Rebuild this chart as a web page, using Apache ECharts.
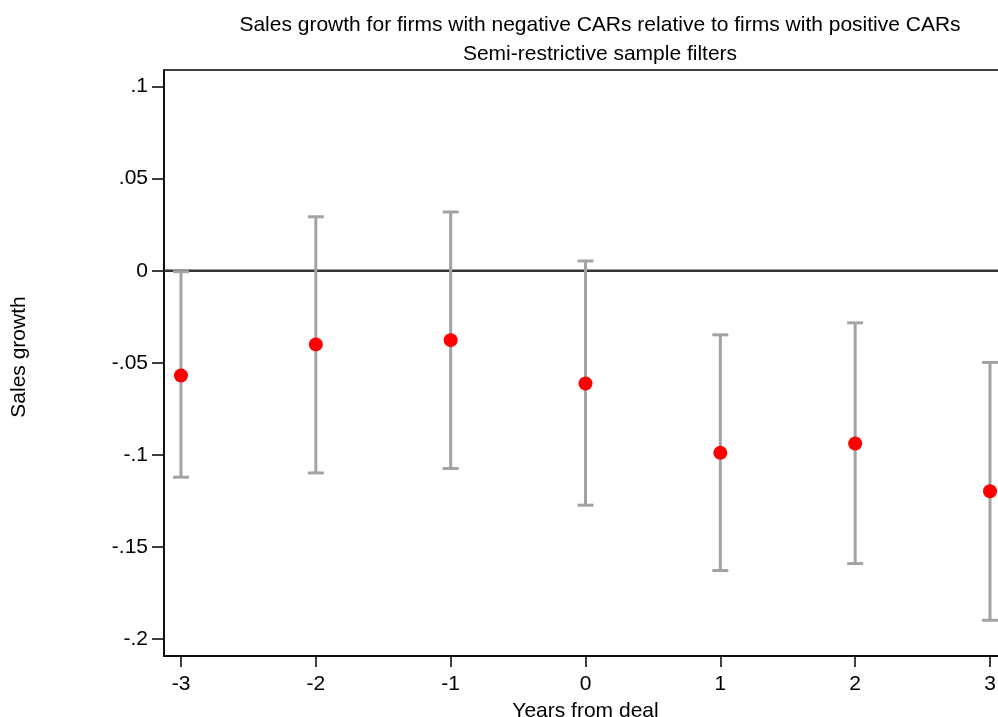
<!DOCTYPE html>
<html>
<head>
<meta charset="utf-8">
<script src="https://cdn.jsdelivr.net/npm/echarts@6/dist/echarts.min.js"></script>
<style>
html,body{margin:0;padding:0;background:#fff;}
#chart{width:998px;height:717px;}
</style>
</head>
<body>
<div id="chart"></div>
<script>
const years = [-3, -2, -1, 0, 1, 2, 3];
const estimate = [-0.0569, -0.0400, -0.0377, -0.0612, -0.0989, -0.0938, -0.1197];
const upper = [-0.0005, 0.0293, 0.0319, 0.0053, -0.0348, -0.0283, -0.0498];
const lower = [-0.1121, -0.1098, -0.1074, -0.1273, -0.1628, -0.1590, -0.1898];
const yTicks = [-0.2, -0.15, -0.1, -0.05, 0, 0.05, 0.1];
const yTickLabels = ['-.2', '-.15', '-.1', '-.05', '0', '.05', '.1'];
const xTicks = [-3, -2, -1, 0, 1, 2, 3];

const FONT = 'Liberation Sans, Arial, sans-serif';
const FS = 21;
const chart = echarts.init(document.getElementById('chart'), null, {renderer: 'canvas'});

const errData = years.map((x, i) => [x, lower[i], upper[i]]);
const ptData = years.map((x, i) => [x, estimate[i]]);

chart.setOption({
  backgroundColor: '#fff',
  animation: false,
  title: [
    {text: 'Sales growth for firms with negative CARs relative to firms with positive CARs',
     left: 595, top: 10, textAlign: 'center',
     textStyle: {fontFamily: FONT, fontSize: FS, fontWeight: 'normal', color: '#000'}},
    {text: 'Semi-restrictive sample filters',
     left: 595, top: 39, textAlign: 'center',
     textStyle: {fontFamily: FONT, fontSize: FS, fontWeight: 'normal', color: '#000'}}
  ],
  grid: {left: 164, right: -9, top: 70, bottom: 61, show: true, borderColor: '#000', borderWidth: 1.5,
         containLabel: false, outerBoundsMode: 'none'},
  xAxis: {
    type: 'value', min: -3.126, max: 3.126,
    name: 'Years from deal', nameLocation: 'middle', nameGap: 45,
    nameTextStyle: {fontFamily: FONT, fontSize: FS, color: '#000'},
    axisLine: {show: true, onZero: false, lineStyle: {color: '#000', width: 1.5}},
    axisTick: {show: true, length: 11, lineStyle: {color: '#000', width: 1.5}, customValues: xTicks},
    axisLabel: {fontFamily: FONT, fontSize: FS, color: '#000', margin: 18, customValues: xTicks,
      formatter: v => String(Math.round(v))},
    splitLine: {show: false}
  },
  yAxis: {
    type: 'value', min: -0.2092, max: 0.109,
    name: 'Sales growth', nameLocation: 'middle', nameGap: 134, nameRotate: 90,
    nameTextStyle: {fontFamily: FONT, fontSize: FS, color: '#000', padding: [0, 0, 0, 12]},
    axisLine: {show: true, onZero: false, lineStyle: {color: '#000', width: 1.5}},
    axisTick: {show: true, length: 12, lineStyle: {color: '#000', width: 1.5}, customValues: yTicks},
    axisLabel: {fontFamily: FONT, fontSize: FS, color: '#000', margin: 16, customValues: yTicks,
      formatter: v => {
        const i = yTicks.findIndex(t => Math.abs(t - v) < 1e-6);
        return i >= 0 ? yTickLabels[i] : '';
      }},
    splitLine: {show: false}
  },
  series: [
    {
      type: 'custom',
      data: errData,
      clip: false,
      renderItem: function (params, api) {
        const x = api.value(0);
        const lo = api.coord([x, api.value(1)]);
        const hi = api.coord([x, api.value(2)]);
        const hw = 8;
        const style = {stroke: '#a3a3a3', lineWidth: 3, fill: null};
        return {
          type: 'group',
          children: [
            {type: 'line', shape: {x1: lo[0], y1: lo[1], x2: hi[0], y2: hi[1]}, style: style},
            {type: 'line', shape: {x1: lo[0] - hw, y1: lo[1], x2: lo[0] + hw, y2: lo[1]}, style: style},
            {type: 'line', shape: {x1: hi[0] - hw, y1: hi[1], x2: hi[0] + hw, y2: hi[1]}, style: style}
          ]
        };
      },
      z: 2
    },
    {
      type: 'line',
      data: [[-3.126, 0], [3.126, 0]],
      symbol: 'none',
      lineStyle: {color: '#333', width: 2.5},
      z: 1,
      silent: true
    },
    {
      type: 'scatter',
      data: ptData,
      symbol: 'circle',
      symbolSize: 14,
      itemStyle: {color: '#ff0000', opacity: 1},
      z: 3
    }
  ]
});
</script>
</body>
</html>
